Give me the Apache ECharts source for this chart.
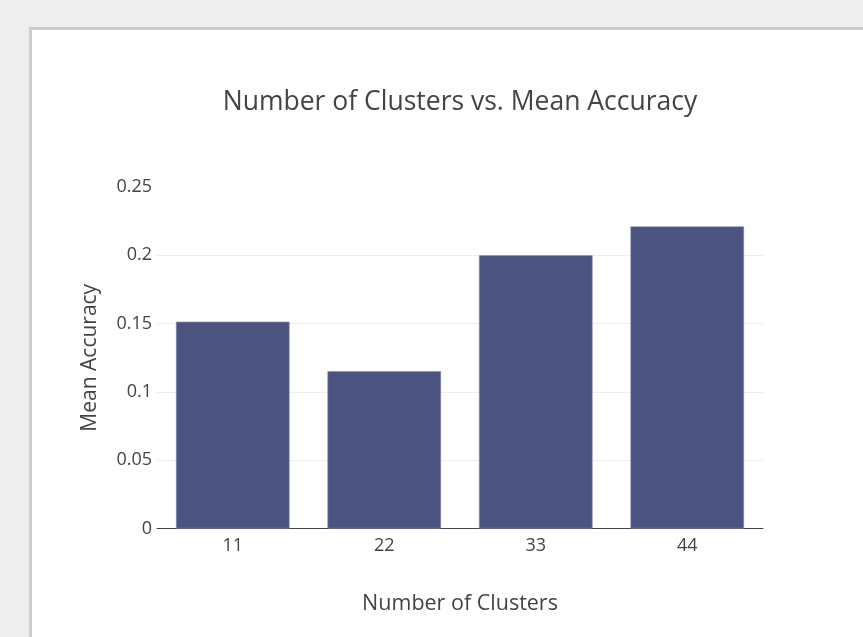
<!DOCTYPE html>
<html>
<head>
<meta charset="utf-8">
<script src="https://cdn.jsdelivr.net/npm/echarts@6/dist/echarts.min.js"></script>
<style>
html,body{margin:0;padding:0;background:#eeeeee;width:863px;height:637px;overflow:hidden;}
#panel{position:absolute;left:29px;top:27px;width:900px;height:700px;background:#fff;border:3px solid #cccccc;}
#chart{position:absolute;left:0;top:0;width:863px;height:637px;}
</style>
</head>
<body>
<div id="panel"></div>
<div id="chart"></div>
<script>
const categories = ['11', '22', '33', '44'];
const meanAccuracy = [0.1514, 0.1151, 0.2, 0.2212];
const yTicks = { min: 0, max: 0.25, interval: 0.05 };

const chart = echarts.init(document.getElementById('chart'), null, { renderer: 'canvas' });
const font = '"Open Sans", "Noto Sans", sans-serif';
chart.setOption({
  backgroundColor: 'transparent',
  animation: false,
  title: {
    text: 'Number of Clusters vs. Mean Accuracy',
    left: 455, top: 84, textAlign: 'center',
    textStyle: { fontFamily: font, fontSize: 26.5, fontWeight: 'normal', color: '#444444' }
  },
  grid: { left: 157, right: 100, top: 187, bottom: 108.5, containLabel: false },
  xAxis: {
    type: 'category',
    data: categories,
    name: 'Number of Clusters',
    nameLocation: 'middle',
    nameGap: 64,
    nameTextStyle: { fontFamily: font, fontSize: 21.5, color: '#444444' },
    axisLine: { show: true, lineStyle: { color: '#444444', width: 1 } },
    axisTick: { show: false },
    axisLabel: { fontFamily: font, fontSize: 18, color: '#444444', margin: 8 }
  },
  yAxis: {
    type: 'value',
    min: yTicks.min, max: yTicks.max, interval: yTicks.interval,
    name: 'Mean Accuracy',
    nameLocation: 'middle',
    nameGap: 56,
    nameTextStyle: { fontFamily: font, fontSize: 21, color: '#444444' },
    axisLine: { show: false },
    axisTick: { show: false },
    axisLabel: { fontFamily: font, fontSize: 18, color: '#444444', margin: 5 },
    splitLine: { show: true, lineStyle: { color: ['#eeeeee','#eeeeee','#eeeeee','#eeeeee','#eeeeee','rgba(0,0,0,0)'], width: 1 } }
  },
  series: [{
    type: 'bar',
    data: meanAccuracy,
    barCategoryGap: '25%',
    itemStyle: { color: '#4b5480', borderColor: '#8c92b2', borderWidth: 0.6 }
  }]
});
</script>
</body>
</html>
